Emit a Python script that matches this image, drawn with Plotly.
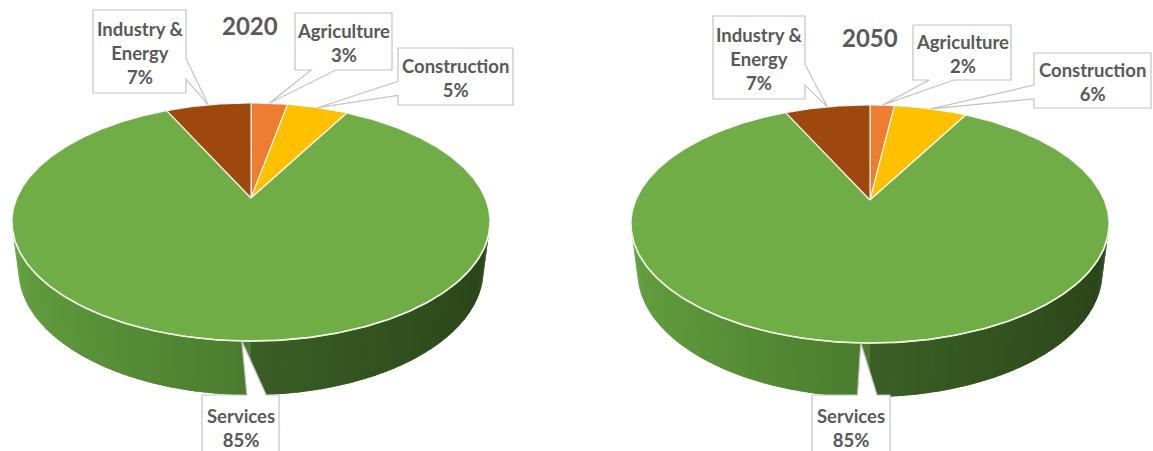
import numpy as np
import plotly.graph_objects as go

# ---------------- data ----------------
years = ["2020", "2050"]
categories = ["Agriculture", "Construction", "Services", "Industry &<br>Energy"]
shares_2020 = [3, 5, 85, 7]
shares_2050 = [2, 6, 85, 7]
slice_colors = ["#ED7D31", "#FFC000", "#70AD47", "#9E480E"]

# ---------------- style / layout ----------------
W, H = 1153, 451
TEXT = "#595959"
FONT = "Lato"
# perspective pie geometry (pixels)
WX = 234.1            # horizontal radius scale
SINP, COSP = 0.4878, 0.8729   # view elevation
RD = 0.2311           # radius / camera distance (perspective)
ZBOT = -0.2365        # pie thickness (in radius units)

pies = [
    dict(cx=251, cy=198, title_xy=(250, 25),
         boxes=[(295, 13, 392, 70), (398, 48, 513, 105), (202, 395, 279, 458), (93, 10, 186, 93)]),
    dict(cx=870, cy=200, title_xy=(870, 37),
         boxes=[(913, 25, 1011, 80), (1034, 53, 1151, 108), (812, 395, 890, 458), (713, 16, 805, 99)]),
]


def proj(theta_deg, z, cx, cy):
    th = np.radians(theta_deg)
    dn = 1 + RD * (np.cos(th) * COSP - z * SINP)
    X = cx + WX * np.sin(th) / dn
    Y = cy - WX * (np.cos(th) * SINP + z * COSP) / dn
    return X, Y


def hex2rgb(h):
    h = h.lstrip("#")
    return np.array([int(h[i:i + 2], 16) for i in (0, 2, 4)], dtype=float)


def lerp_col(c0, c1, t):
    a, b = hex2rgb(c0), hex2rgb(c1)
    c = a + (b - a) * t
    return "rgb(%d,%d,%d)" % tuple(np.round(c))


def side_color(theta):
    # screen position 0 = left, 1 = right
    p = (np.sin(np.radians(theta)) + 1) / 2
    if p < 0.5:
        return lerp_col("#64a140", "#4b7b2e", p / 0.5)
    return lerp_col("#3a5f25", "#2a431a", (p - 0.5) / 0.5)


def callout_path(x0, y0, x1, y1, tx, ty):
    w, h = x1 - x0, y1 - y0
    hc, vc = (x0 + x1) / 2, (y0 + y1) / 2
    dx, dy = tx - hc, ty - vc
    dq = dx * h / w
    P = lambda x, y: f"{x:.2f},{y:.2f}"
    if abs(dy) > abs(dq):
        xa, xb = (x0 + w * 7 / 12, x0 + w * 10 / 12) if dx > 0 else (x0 + w * 2 / 12, x0 + w * 5 / 12)
        if dy > 0:
            pts = [(x0, y0), (x1, y0), (x1, y1), (xb, y1), (tx, ty), (xa, y1), (x0, y1)]
        else:
            pts = [(x0, y0), (xa, y0), (tx, ty), (xb, y0), (x1, y0), (x1, y1), (x0, y1)]
    else:
        ya, yb = (y0 + h * 7 / 12, y0 + h * 10 / 12) if dy > 0 else (y0 + h * 2 / 12, y0 + h * 5 / 12)
        if dx > 0:
            pts = [(x0, y0), (x1, y0), (x1, ya), (tx, ty), (x1, yb), (x1, y1), (x0, y1)]
        else:
            pts = [(x0, y0), (x1, y0), (x1, y1), (x0, y1), (x0, yb), (tx, ty), (x0, ya)]
    return "M " + " L ".join(P(*p) for p in pts) + " Z"


fig = go.Figure()
shapes, annotations = [], []

# silhouette angle of the visible side
th_s = np.degrees(np.arccos(-RD / COSP))

for pie, year, shares in zip(pies, years, [shares_2020, shares_2050]):
    cx, cy = pie["cx"], pie["cy"]
    total = float(sum(shares))
    bounds = np.concatenate([[0], np.cumsum(shares) / total * 360.0])

    # ---- visible side (front), slightly overlapping strips ----
    angs = np.linspace(th_s, 360 - th_s, 151)
    step = angs[1] - angs[0]
    for a0 in angs[:-1]:
        a1 = min(a0 + step * 1.8, 360 - th_s)
        arc = np.linspace(a0, a1, 4)
        xt, yt = proj(arc, 0, cx, cy)
        xb, yb = proj(arc[::-1], ZBOT, cx, cy)
        col = side_color(a0 + step / 2)
        fig.add_trace(go.Scatter(
            x=np.concatenate([xt, xb, xt[:1]]), y=np.concatenate([yt, yb, yt[:1]]),
            mode="lines", fill="toself", fillcolor=col,
            line=dict(width=0), hoverinfo="skip", showlegend=False))

    # ---- top face slices ----
    for i, (cat, v, col) in enumerate(zip(categories, shares, slice_colors)):
        a0, a1 = bounds[i], bounds[i + 1]
        arc = np.linspace(a0, a1, max(int((a1 - a0) / 0.5), 2) + 1)
        ax_, ay_ = proj(arc, 0, cx, cy)
        xs = np.concatenate([[cx], ax_, [cx]])
        ys = np.concatenate([[cy], ay_, [cy]])
        fig.add_trace(go.Scatter(
            x=xs, y=ys, mode="lines", fill="toself", fillcolor=col,
            line=dict(color="rgba(255,255,255,0.85)", width=1.2),
            hoverinfo="skip", showlegend=False, name=cat))

    # ---- front rim highlight ----
    rim = np.linspace(th_s - 3, 363 - th_s, 200)
    rx, ry = proj(rim, 0, cx, cy)
    fig.add_trace(go.Scatter(x=rx, y=ry, mode="lines",
                             line=dict(color="#eef6e2", width=1.6),
                             hoverinfo="skip", showlegend=False))

    # ---- callouts ----
    for i, (cat, v) in enumerate(zip(categories, shares)):
        mid = (bounds[i] + bounds[i + 1]) / 2
        tx, ty = proj(mid, 0, cx, cy)
        x0, y0, x1, y1 = pie["boxes"][i]
        shapes.append(dict(type="path", xref="x", yref="y",
                           path=callout_path(x0, y0, x1, y1, tx, ty),
                           fillcolor="white", line=dict(color="#c4c4c4", width=1.2),
                           layer="above"))
        annotations.append(dict(x=(x0 + x1) / 2, y=(y0 + y1) / 2 + 1, xref="x", yref="y",
                                text=f"{cat}<br>{v}%", showarrow=False,
                                font=dict(family=FONT, size=18.5, color=TEXT, weight="bold"),
                                align="center"))

    # ---- title ----
    annotations.append(dict(x=pie["title_xy"][0], y=pie["title_xy"][1], xref="x", yref="y",
                            text=f"<b>{year}</b>", showarrow=False,
                            font=dict(family=FONT, size=24, color=TEXT)))

fig.update_layout(
    width=W, height=H, margin=dict(l=0, r=0, t=0, b=0),
    paper_bgcolor="white", plot_bgcolor="white",
    xaxis=dict(range=[0, W], visible=False, fixedrange=True),
    yaxis=dict(range=[H, 0], visible=False, fixedrange=True),
    shapes=shapes, annotations=annotations, showlegend=False,
)

fig.write_html("out.html")
